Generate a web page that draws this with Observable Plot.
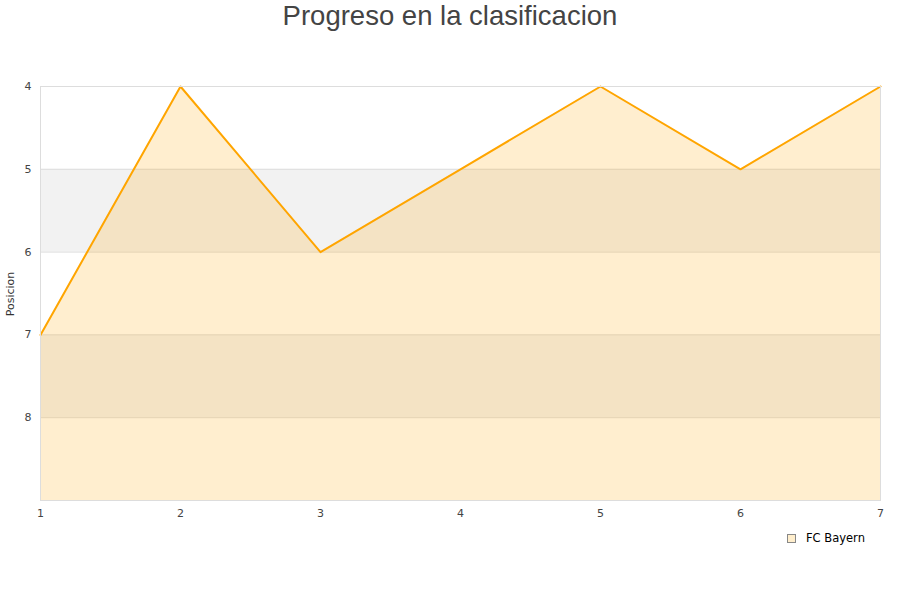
<!DOCTYPE html>
<html><head><meta charset="utf-8">
<script src="https://cdn.jsdelivr.net/npm/d3@7"></script>
<script src="https://cdn.jsdelivr.net/npm/@observablehq/plot@0.6"></script>
<style>
body{margin:0;background:#fff;}
#wrap{position:relative;width:900px;height:600px;}
#title{position:absolute;left:0;top:0;width:900px;text-align:center;font-family:"Liberation Sans",Arial,sans-serif;font-size:27.5px;color:#444;line-height:31px;}
#ylab{position:absolute;left:4px;top:294px;transform-origin:0 0;transform:rotate(-90deg) translate(-50%,0);font-family:"DejaVu Sans",sans-serif;font-size:11px;color:#333;white-space:nowrap;}
#legend{position:absolute;left:787px;top:531px;font-family:"DejaVu Sans",sans-serif;font-size:11.5px;color:#000;display:flex;align-items:center;}
#legend span.sw{display:inline-block;width:7px;height:7px;background:#ffeecc;border:1px solid #888;margin-right:10px;}
#chart{position:absolute;left:0;top:0;}
</style></head>
<body>
<div id="wrap">
<div id="chart"></div>
<div id="title">Progreso en la clasificacion</div>
<div id="ylab">Posicion</div>
<div id="legend"><span class="sw"></span>FC Bayern</div>
</div>
<script>
const jornadas = [1,2,3,4,5,6,7];
const posiciones = [7,4,6,5,4,5,4];
const yTicks = [4,5,6,7,8];
const bands = [[5,6],[7,8]];
const team = "FC Bayern";

const data = jornadas.map((j,i)=>({j, p: posiciones[i]}));
const bandData = bands.map(([a,b])=>({a,b}));

const plot = Plot.plot({
  width: 900,
  height: 600,
  marginTop: 86,
  marginBottom: 100,
  marginLeft: 40,
  marginRight: 20,
  style: {fontFamily: "DejaVu Sans, sans-serif", fontSize: "11px", color: "#444", background: "transparent"},
  x: {domain: [1,7], ticks: jornadas, tickFormat: d=>String(d), label: null},
  y: {domain: [4,9], reverse: true, ticks: yTicks, label: null},
  marks: [
    Plot.rect(bandData, {x1: 1, x2: 7, y1: "a", y2: "b", fill: "#f2f2f2"}),
    Plot.ruleY(yTicks.slice(1), {stroke: "#dddddd"}),
    Plot.areaY(data, {x: "j", y1: 9, y2: "p", fill: "orange", fillOpacity: 0.19}),
    Plot.line(data, {x: "j", y: "p", stroke: "#ffa500", strokeWidth: 2}),
    Plot.frame({stroke: "#dddddd"}),
    Plot.axisY({ticks: yTicks, tickSize: 0, tickPadding: 9, tickFormat: d=>String(d)}),
    Plot.axisX({ticks: jornadas, tickSize: 0, tickPadding: 9, tickFormat: d=>String(d)})
  ]
});
document.getElementById("chart").appendChild(plot);
</script>
</body></html>
